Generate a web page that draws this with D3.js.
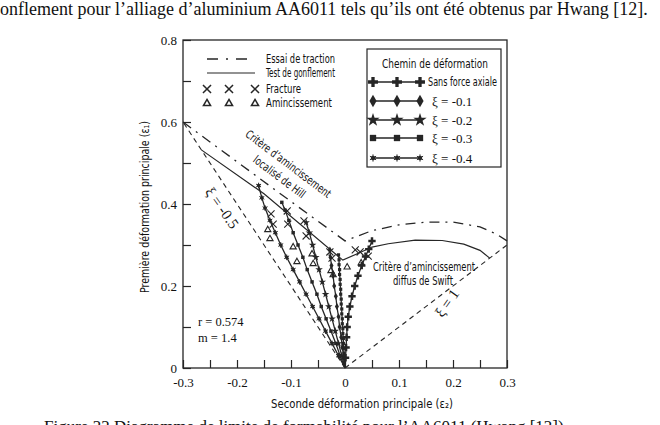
<!DOCTYPE html>
<html>
<head>
<meta charset="utf-8">
<script src="https://cdn.jsdelivr.net/npm/d3@7"></script>
<style>
  body { margin: 0; background: #fff; }
  svg { display: block; }
  .serif { font-family: "Liberation Serif", "Times New Roman", serif; fill: #111; }
  .sans { font-family: "DejaVu Sans Condensed", "Open Sans", sans-serif; fill: #111; }
</style>
</head>
<body>
<svg id="fld" width="660" height="425"></svg>
<script>
  // axis ticks
  var xTickValues = [-0.3, -0.25, -0.2, -0.15, -0.1, -0.05, 0, 0.05, 0.1, 0.15, 0.2, 0.25, 0.3];
  var xTickLabels = ['-0.3', '-0.2', '-0.1', '0', '0.1', '0.2', '0.3'];
  var yTickValues = [0, 0.1, 0.2, 0.3, 0.4, 0.5, 0.6, 0.7, 0.8];
  var yTickLabels = ['0', '0.2', '0.4', '0.6', '0.8'];

  // limit curves [eps2, eps1]
  var essaiTraction = [[-0.3, 0.6], [-0.2, 0.503], [-0.1, 0.406], [0, 0.31], [0.05, 0.335], [0.1, 0.349],
    [0.15, 0.356], [0.2, 0.356], [0.25, 0.344], [0.28, 0.327], [0.3, 0.31]];
  var testGonflement = [[-0.266, 0.532], [-0.15, 0.425], [-0.004, 0.263], [0.03, 0.283], [0.05, 0.295]];
  var critereSwift = [[0.05, 0.295], [0.08, 0.303], [0.13, 0.312], [0.18, 0.311], [0.22, 0.302],
    [0.25, 0.287], [0.268, 0.268]];
  var xiMoins05 = [[0, 0], [-0.3, 0.6]];
  var xiUn = [[0, 0], [0.3, 0.3]];

  // experimental points
  var fracture = [[-0.137, 0.376], [-0.133, 0.351], [-0.107, 0.383], [-0.106, 0.351], [-0.076, 0.359],
    [-0.072, 0.322], [-0.028, 0.283], [-0.024, 0.268], [0.019, 0.288], [0.028, 0.283], [0.043, 0.273]];
  var amincissement = [[-0.143, 0.337], [-0.139, 0.315], [-0.096, 0.295], [-0.089, 0.259], [-0.061, 0.278],
    [-0.059, 0.254], [-0.026, 0.237], [-0.022, 0.227], [0.004, 0.246], [0.030, 0.256]];

  // strain paths
  var cheminSansForce = [[0, 0], [0.001, 0.025], [0.002, 0.05], [0.003, 0.075], [0.004, 0.1], [0.006, 0.125],
    [0.009, 0.15], [0.013, 0.175], [0.018, 0.2], [0.024, 0.225], [0.031, 0.25], [0.038, 0.272], [0.044, 0.29], [0.05, 0.31]];
  var cheminXi01 = [[0, 0], [-0.002, 0.025], [-0.005, 0.05], [-0.007, 0.075], [-0.01, 0.1], [-0.012, 0.125],
    [-0.015, 0.15], [-0.017, 0.175], [-0.02, 0.2], [-0.022, 0.225], [-0.025, 0.25], [-0.027, 0.27], [-0.028, 0.288]];
  var cheminXi02 = [[0, 0], [-0.006, 0.03], [-0.012, 0.06], [-0.018, 0.09], [-0.024, 0.12], [-0.03, 0.15],
    [-0.036, 0.18], [-0.042, 0.21], [-0.048, 0.24], [-0.054, 0.27], [-0.06, 0.3], [-0.066, 0.33], [-0.072, 0.355]];
  var cheminXi03 = [[0, 0], [-0.009, 0.03], [-0.017, 0.06], [-0.026, 0.09], [-0.035, 0.12], [-0.044, 0.15],
    [-0.052, 0.18], [-0.061, 0.21], [-0.07, 0.24], [-0.078, 0.27], [-0.087, 0.3], [-0.096, 0.33],
    [-0.104, 0.36], [-0.111, 0.385], [-0.117, 0.404]];
  var cheminXi04 = [[0, 0], [-0.012, 0.03], [-0.024, 0.06], [-0.036, 0.09], [-0.048, 0.12], [-0.06, 0.15],
    [-0.072, 0.18], [-0.084, 0.21], [-0.096, 0.24], [-0.108, 0.27], [-0.119, 0.3], [-0.129, 0.33],
    [-0.139, 0.36], [-0.148, 0.39], [-0.154, 0.415], [-0.16, 0.445]];
  var cheminPlan = [[0, 0], [-0.001, 0.012], [-0.001, 0.024], [-0.002, 0.036], [-0.002, 0.048], [-0.003, 0.06],
    [-0.003, 0.072], [-0.004, 0.084], [-0.004, 0.096], [-0.005, 0.108], [-0.005, 0.12], [-0.006, 0.132],
    [-0.006, 0.144], [-0.007, 0.156], [-0.007, 0.168], [-0.008, 0.18], [-0.008, 0.192], [-0.009, 0.204],
    [-0.009, 0.216], [-0.01, 0.228], [-0.01, 0.24], [-0.011, 0.252], [-0.011, 0.264], [-0.012, 0.276]];

  var legendCourbes = ['Essai de traction', 'Test de gonflement', 'Fracture', 'Amincissement'];
  var legendChemins = ['Sans force axiale', '\u03BE = -0.1', '\u03BE = -0.2', '\u03BE = -0.3', '\u03BE = -0.4'];

  var svg = d3.select('#fld');
  var x = d3.scaleLinear().domain([-0.3, 0.3]).range([183, 507]);
  var y = d3.scaleLinear().domain([0, 0.8]).range([368, 40]);
  var ink = '#262626';
  var line = d3.line().x(function (d) { return x(d[0]); }).y(function (d) { return y(d[1]); });

  // squeeze a label into the width it has in the scan
  function fit(sel, w) {
    return sel.attr('textLength', w).attr('lengthAdjust', 'spacingAndGlyphs');
  }

  // page text around the figure
  svg.append('text').attr('class', 'serif').attr('x', 0).attr('y', 15).attr('font-size', 18)
    .text('onflement pour l\u2019alliage d\u2019aluminium AA6011 tels qu\u2019ils ont \u00E9t\u00E9 obtenus par Hwang [12].');
  svg.append('text').attr('class', 'serif').attr('x', 44).attr('y', 432).attr('font-size', 17)
    .text('Figure 22 Diagramme de limite de formabilit\u00E9 pour l\u2019AA6011 (Hwang [12])');

  // axes
  var xAxis = d3.axisBottom(x).tickValues(xTickValues).tickSize(-8).tickPadding(10)
    .tickFormat(function (d) {
      return Math.abs(Math.round(d * 100)) % 10 === 0 ? xTickLabels[Math.round((d + 0.3) * 10)] : '';
    });
  var yAxis = d3.axisLeft(y).tickValues(yTickValues).tickSize(-8).tickPadding(6)
    .tickFormat(function (d) {
      return Math.round(d * 10) % 2 === 0 ? yTickLabels[Math.round(d * 5)] : '';
    });
  var gx = svg.append('g').attr('transform', 'translate(0,368)').call(xAxis);
  var gy = svg.append('g').attr('transform', 'translate(183,0)').call(yAxis);
  [gx, gy].forEach(function (g) {
    g.select('.domain').remove();
    g.selectAll('line').attr('stroke', ink).attr('stroke-width', 1.2);
    g.selectAll('text').attr('class', 'serif').attr('font-size', 13).attr('fill', '#111');
  });
  svg.append('rect').attr('x', 183).attr('y', 40).attr('width', 324).attr('height', 328)
    .attr('fill', 'none').attr('stroke', ink).attr('stroke-width', 1.3);

  fit(svg.append('text').attr('class', 'sans').attr('x', 362).attr('y', 408)
    .attr('text-anchor', 'middle').attr('font-size', 11.5)
    .text('Seconde d\u00E9formation principale (\u03B5\u2082)'), 182);
  fit(svg.append('text').attr('class', 'sans').attr('transform', 'translate(149,207) rotate(-90)')
    .attr('text-anchor', 'middle').attr('font-size', 11.5)
    .text('Premi\u00E8re d\u00E9formation principale (\u03B5\u2081)'), 172);

  // reference lines
  var plot = svg.append('g');
  plot.append('path').datum(xiMoins05).attr('d', line).attr('fill', 'none').attr('stroke', ink)
    .attr('stroke-width', 1.1).attr('stroke-dasharray', '5,4');
  plot.append('path').datum(xiUn).attr('d', line).attr('fill', 'none').attr('stroke', ink)
    .attr('stroke-width', 1.1).attr('stroke-dasharray', '5,4');
  plot.append('path').datum(essaiTraction).attr('d', line).attr('fill', 'none').attr('stroke', ink)
    .attr('stroke-width', 1.3).attr('stroke-dasharray', '10,6,2,6');
  plot.append('path').datum(testGonflement).attr('d', line).attr('fill', 'none').attr('stroke', ink)
    .attr('stroke-width', 1.2);
  plot.append('path').datum(critereSwift).attr('d', line).attr('fill', 'none').attr('stroke', ink)
    .attr('stroke-width', 1.2);

  // markers
  var sym = {
    plus: d3.symbol().type(d3.symbolCross),
    diamond: d3.symbol().type(d3.symbolDiamond),
    star: d3.symbol().type(d3.symbolStar),
    square: d3.symbol().type(d3.symbolSquare),
    circle: d3.symbol().type(d3.symbolCircle)
  };
  function drawMarker(g, kind, size) {
    if (kind === 'asterisk') {
      g.append('path').attr('d', sym.circle.size(size)()).attr('fill', ink);
      g.append('path').attr('d', d3.symbol().type(d3.symbolAsterisk).size(size * 2.2)()).attr('fill', 'none')
        .attr('stroke', ink).attr('stroke-width', 1);
    } else {
      g.append('path').attr('d', sym[kind].size(size)()).attr('fill', ink);
    }
  }
  function drawChemin(data, kind, size) {
    plot.append('path').datum(data).attr('d', line).attr('fill', 'none').attr('stroke', ink).attr('stroke-width', 1.3);
    data.slice(1).forEach(function (d) {
      var g = plot.append('g').attr('transform', 'translate(' + x(d[0]) + ',' + y(d[1]) + ')');
      drawMarker(g, kind, size);
    });
  }
  drawChemin(cheminPlan, 'square', 10);
  drawChemin(cheminXi04, 'asterisk', 10);
  drawChemin(cheminXi03, 'square', 12);
  drawChemin(cheminXi02, 'star', 18);
  drawChemin(cheminXi01, 'diamond', 14);
  drawChemin(cheminSansForce, 'plus', 30);

  plot.selectAll('.frac').data(fracture).enter().append('path')
    .attr('transform', function (d) { return 'translate(' + x(d[0]) + ',' + y(d[1]) + ')'; })
    .attr('d', d3.symbol().type(d3.symbolTimes).size(34)).attr('fill', 'none').attr('stroke', ink).attr('stroke-width', 1.1);
  plot.selectAll('.amin').data(amincissement).enter().append('path')
    .attr('transform', function (d) { return 'translate(' + x(d[0]) + ',' + y(d[1]) + ')'; })
    .attr('d', d3.symbol().type(d3.symbolTriangle2).size(28)).attr('fill', 'none').attr('stroke', ink).attr('stroke-width', 1.1);

  // annotations
  fit(svg.append('text').attr('class', 'sans').attr('font-size', 11.5).attr('text-anchor', 'middle')
    .attr('transform', 'translate(286,167) rotate(37)').text('Crit\u00E8re d\u2019amincissement'), 104);
  fit(svg.append('text').attr('class', 'sans').attr('font-size', 11.5).attr('text-anchor', 'middle')
    .attr('transform', 'translate(277,180) rotate(37)').text('localis\u00E9 de Hill'), 62);
  fit(svg.append('text').attr('class', 'sans').attr('font-size', 11.5).attr('text-anchor', 'middle')
    .attr('x', 424).attr('y', 271).text('Crit\u00E8re d\u2019amincissement'), 102);
  fit(svg.append('text').attr('class', 'sans').attr('font-size', 11.5).attr('text-anchor', 'middle')
    .attr('x', 423).attr('y', 285).text('diffus de Swift'), 60);
  svg.append('text').attr('class', 'serif').attr('font-size', 15).attr('text-anchor', 'middle')
    .attr('dominant-baseline', 'central').attr('transform', 'translate(222,208) rotate(55)').text('\u03BE = -0.5');
  svg.append('text').attr('class', 'serif').attr('font-size', 15).attr('text-anchor', 'middle')
    .attr('dominant-baseline', 'central').attr('transform', 'translate(447,303) rotate(-55)').text('\u03BE = 1');
  svg.append('text').attr('class', 'serif').attr('font-size', 12.5).attr('x', 198).attr('y', 326).text('r = 0.574');
  svg.append('text').attr('class', 'serif').attr('font-size', 12.5).attr('x', 198).attr('y', 342).text('m = 1.4');

  // legend, top left
  var lg = svg.append('g');
  lg.append('line').attr('x1', 207).attr('x2', 255).attr('y1', 59).attr('y2', 59).attr('stroke', ink)
    .attr('stroke-width', 1.3).attr('stroke-dasharray', '11,8,2,8');
  lg.append('line').attr('x1', 207).attr('x2', 255).attr('y1', 73).attr('y2', 73).attr('stroke', ink).attr('stroke-width', 1.2);
  [207, 229, 255].forEach(function (cx) {
    lg.append('path').attr('transform', 'translate(' + cx + ',89)')
      .attr('d', d3.symbol().type(d3.symbolTimes).size(44)()).attr('fill', 'none').attr('stroke', ink).attr('stroke-width', 1.5);
    lg.append('path').attr('transform', 'translate(' + cx + ',103.5)')
      .attr('d', d3.symbol().type(d3.symbolTriangle2).size(36)()).attr('fill', 'none').attr('stroke', ink).attr('stroke-width', 1.5);
  });
  var courbeWidths = [69, 69, 35, 66];
  legendCourbes.forEach(function (t, i) {
    fit(lg.append('text').attr('class', 'sans').attr('font-size', 11.5).attr('x', 266).attr('y', [59, 73, 89, 103][i])
      .attr('dominant-baseline', 'central').text(t), courbeWidths[i]);
  });

  // legend box, strain paths
  var lb = svg.append('g');
  lb.append('rect').attr('x', 367).attr('y', 49).attr('width', 134).attr('height', 118)
    .attr('fill', '#fff').attr('stroke', ink).attr('stroke-width', 1.2);
  fit(lb.append('text').attr('class', 'sans').attr('font-size', 11.5).attr('x', 435).attr('y', 64)
    .attr('text-anchor', 'middle').attr('dominant-baseline', 'central').text('Chemin de d\u00E9formation'), 106);
  var kinds = ['plus', 'diamond', 'star', 'square', 'asterisk'];
  var sizes = [55, 45, 55, 40, 16];
  var rowsY = [82, 101, 120, 138, 158];
  legendChemins.forEach(function (t, i) {
    lb.append('line').attr('x1', 373).attr('x2', 420).attr('y1', rowsY[i]).attr('y2', rowsY[i])
      .attr('stroke', ink).attr('stroke-width', 1.3);
    [373, 397, 420].forEach(function (cx) {
      var g = lb.append('g').attr('transform', 'translate(' + cx + ',' + rowsY[i] + ')');
      drawMarker(g, kinds[i], sizes[i]);
    });
    var lt = lb.append('text').attr('class', i === 0 ? 'sans' : 'serif').attr('font-size', i === 0 ? 11.5 : 13)
      .attr('x', i === 0 ? 428 : 432).attr('y', rowsY[i]).attr('dominant-baseline', 'central').text(t);
    if (i === 0) fit(lt, 69);
  });
</script>
</body>
</html>
